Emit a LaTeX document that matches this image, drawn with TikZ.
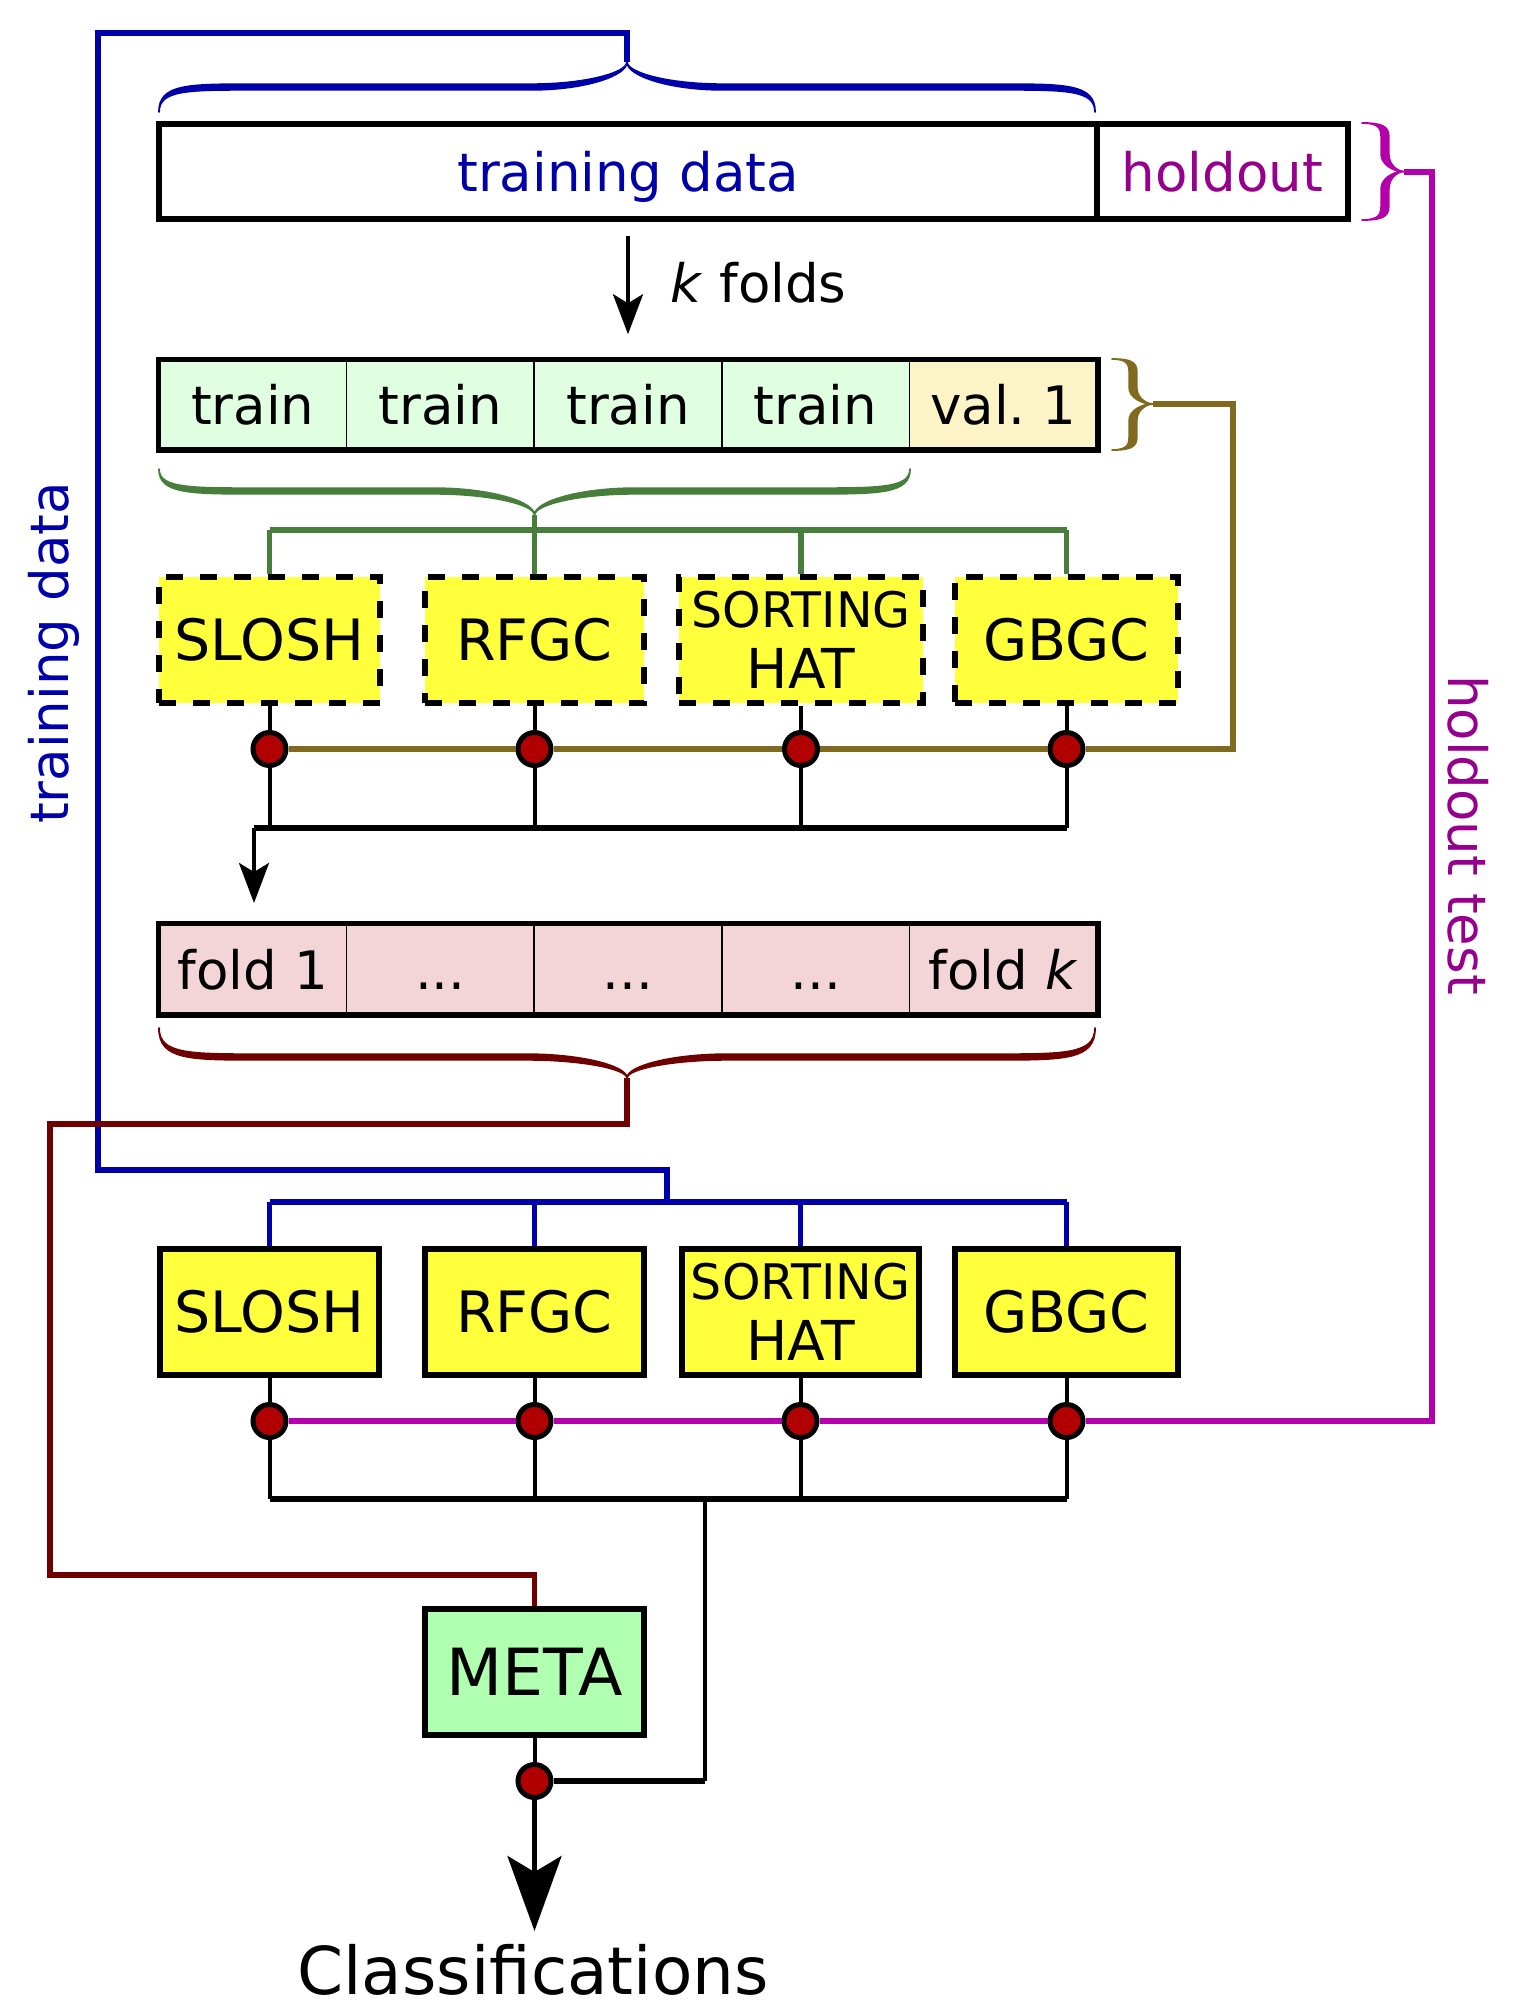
\documentclass[tikz,border=0pt]{standalone}
\usepackage{fontspec}
\setmainfont{DejaVu Sans}
\usetikzlibrary{arrows.meta}
\definecolor{cblue}{RGB}{0,0,170}
\definecolor{cmag}{RGB}{180,0,170}
\definecolor{cmagtext}{RGB}{150,0,140}
\definecolor{colive}{RGB}{128,106,32}
\definecolor{cgreen}{RGB}{72,126,60}
\definecolor{cdred}{RGB}{110,0,0}
\definecolor{cdot}{RGB}{176,0,0}
\definecolor{cyel}{RGB}{255,255,60}
\definecolor{ctrain}{RGB}{224,255,224}
\definecolor{cval}{RGB}{252,243,198}
\definecolor{cfold}{RGB}{244,213,215}
\definecolor{cmeta}{RGB}{176,255,176}
% horizontal brace: colour, left x, right x, tip x, end y, middle y, tip y, half thickness, curve extent
\newcommand\hbrace[9]{%
\filldraw[#1, line width=1.8pt, line join=round]
 (#2,#5) .. controls (#2,{#6-#8}) and ({#2+0.3*#9},{#6-#8}) .. ({#2+#9},{#6-#8})
 -- ({#4-#9},{#6-#8}) .. controls ({#4-0.45*#9},{#6-#8}) and (#4,{0.5*(#6-#8+#7)}) .. (#4,#7)
 .. controls (#4,{0.5*(#6-#8+#7)}) and ({#4+0.45*#9},{#6-#8}) .. ({#4+#9},{#6-#8})
 -- ({#3-#9},{#6-#8}) .. controls ({#3-0.3*#9},{#6-#8}) and (#3,{#6-#8}) .. (#3,#5)
 .. controls (#3,{#6+#8}) and ({#3-0.3*#9},{#6+#8}) .. ({#3-#9},{#6+#8})
 -- ({#4+#9},{#6+#8}) .. controls ({#4+0.45*#9},{#6+#8}) and (#4,{0.5*(#6+#8+#7)}) .. (#4,#7)
 .. controls (#4,{0.5*(#6+#8+#7)}) and ({#4-0.45*#9},{#6+#8}) .. ({#4-#9},{#6+#8})
 -- ({#2+#9},{#6+#8}) .. controls ({#2+0.3*#9},{#6+#8}) and (#2,{#6+#8}) .. (#2,#5) -- cycle;}
% vertical brace: colour, top y, bottom y, tip y, end x, middle x, tip x, half thickness, curve extent
\newcommand\vbrace[9]{%
\filldraw[#1, line width=1.8pt, line join=round]
 (#5,#2) .. controls ({#6-#8},#2) and ({#6-#8},{#2+0.4*#9}) .. ({#6-#8},{#2+#9})
 -- ({#6-#8},{#4-#9}) .. controls ({#6-#8},{#4-0.45*#9}) and ({0.5*(#6-#8+#7)},#4) .. (#7,#4)
 .. controls ({0.5*(#6-#8+#7)},#4) and ({#6-#8},{#4+0.45*#9}) .. ({#6-#8},{#4+#9})
 -- ({#6-#8},{#3-#9}) .. controls ({#6-#8},{#3-0.4*#9}) and ({#6-#8},#3) .. (#5,#3)
 .. controls ({#6+#8},#3) and ({#6+#8},{#3-0.4*#9}) .. ({#6+#8},{#3-#9})
 -- ({#6+#8},{#4+#9}) .. controls ({#6+#8},{#4+0.45*#9}) and ({0.5*(#6+#8+#7)},#4) .. (#7,#4)
 .. controls ({0.5*(#6+#8+#7)},#4) and ({#6+#8},{#4-0.45*#9}) .. ({#6+#8},{#4-#9})
 -- ({#6+#8},{#2+#9}) .. controls ({#6+#8},{#2+0.4*#9}) and ({#6+#8},#2) .. (#5,#2) -- cycle;}
\begin{document}
\frenchspacing
\begin{tikzpicture}[x=1pt,y=-1pt,
  fs/.style={font=\fontsize{53}{60}\selectfont},
  bigbox/.style={draw, line width=5.5pt, inner sep=0pt, text height=40pt, text depth=0pt, fs},
  cell/.style={draw, line width=1.5pt, minimum width=187.6pt, minimum height=89pt, inner sep=0pt, text height=40pt, text depth=0pt, fs},
  mbox/.style={draw, line width=5.5pt, fill=cyel, minimum height=126pt, inner sep=0pt, font=\fontsize{57}{64}\selectfont},
  dbox/.style={mbox, dash pattern=on 17pt off 17pt},
  hatbox/.style={align=center, font=\fontsize{55}{61}\selectfont},
  dot/.style={circle, draw, line width=5pt, fill=cdot, minimum size=33pt, inner sep=0pt},
  wire/.style={line width=4pt},
  buswire/.style={line width=5.5pt},
  cwire/.style={line width=5.5pt},
  smallarrow/.style={line width=4pt, -{Stealth[length=40pt,width=30pt,inset=9pt]}},
  bigarrow/.style={line width=4.5pt, -{Stealth[length=75pt,width=54pt,inset=16pt]}}
]
\useasboundingbox (0,0) rectangle (1535,2007);

% top bar
\node[bigbox, minimum width=938pt, minimum height=95pt, text=cblue] (td) at (628,171.5) {training data};
\node[bigbox, minimum width=251pt, minimum height=95pt, text=cmagtext] (ho) at (1222.5,171.5) {holdout};

% first split
\node[cell, fill=ctrain] (f1) at (252.8,404.5) {train};
\node[cell, fill=ctrain] (f2) at (440.4,404.5) {train};
\node[cell, fill=ctrain] (f3) at (628,404.5) {train};
\node[cell, fill=ctrain] (f4) at (815.6,404.5) {train};
\node[cell, fill=cval] (f5) at (1003.2,404.5) {val. 1};
\draw[line width=5.5pt] (f1.north west) rectangle (f5.south east);

\draw[smallarrow] ([yshift=-14pt]td.south) -- ([yshift=25pt]f3.north);
\node[fs, inner sep=0pt, anchor=west, text height=40pt, text depth=0pt] (kf) at (670,282.5) {\textit{k} folds};

% upper model boxes
\node[dbox, minimum width=221pt] (s1) at (269.5,640) {SLOSH};
\node[dbox, minimum width=219pt] (s2) at (534.5,640) {RFGC};
\node[dbox, minimum width=244pt, hatbox] (s3) at (801,640) {{\fontsize{49}{61}\selectfont SORTING}\\HAT};
\node[dbox, minimum width=223pt] (s4) at (1066.5,640) {GBGC};

\node[dot] (d1) at (269.5,749) {};
\node[dot] (d2) at (534.5,749) {};
\node[dot] (d3) at (801,749) {};
\node[dot] (d4) at (1066.5,749) {};

% fold row
\node[cell, fill=cfold, minimum height=90pt] (g1) at (252.8,969) {fold 1};
\node[cell, fill=cfold, minimum height=90pt] (g2) at (440.4,969) {...};
\node[cell, fill=cfold, minimum height=90pt] (g3) at (628,969) {...};
\node[cell, fill=cfold, minimum height=90pt] (g4) at (815.6,969) {...};
\node[cell, fill=cfold, minimum height=90pt] (g5) at (1003.2,969) {fold \textit{k}};
\draw[line width=5.5pt] (g1.north west) rectangle (g5.south east);

% lower model boxes
\node[mbox, minimum width=219pt] (t1) at (269.5,1312) {SLOSH};
\node[mbox, minimum width=219pt] (t2) at (534.5,1312) {RFGC};
\node[mbox, minimum width=237pt, hatbox] (t3) at (800.5,1312) {{\fontsize{49}{61}\selectfont SORTING}\\HAT};
\node[mbox, minimum width=223pt] (t4) at (1066.5,1312) {GBGC};

\node[dot] (e1) at (269.5,1421) {};
\node[dot] (e2) at (534.5,1421) {};
\node[dot] (e3) at (800.5,1421) {};
\node[dot] (e4) at (1066.5,1421) {};

\node[draw, line width=5.5pt, fill=cmeta, minimum width=219pt, minimum height=126pt, inner sep=0pt, font=\fontsize{65}{72}\selectfont] (meta) at (534.5,1672) {META};
\node[dot] (m) at (534.5,1781) {};
\node[inner sep=0pt, font=\fontsize{66}{74}\selectfont] (cls) at (533,1970) {Classifications};

% side labels
\node[fs, inner sep=0pt, rotate=90, text=cblue] (vtd) at (54,653) {training data};
\node[fs, inner sep=0pt, rotate=-90, text=cmagtext, text height=40pt, text depth=0pt] (vho) at (1468,835) {holdout test};

% coordinates
\coordinate (btip) at (627,62);
\coordinate (b1) at (627,33);
\coordinate (b2) at (98,33);
\coordinate (b3) at (98,1170);
\coordinate (b4) at (667,1170);
\coordinate (b5) at (667,1202);
\coordinate (bb) at (0,1202);
\coordinate (mtip) at (1404,171.5);
\coordinate (m1) at (1432,171.5);
\coordinate (m2) at (1432,1421);
\coordinate (otip) at (1153,404);
\coordinate (o1) at (1233,404);
\coordinate (o2) at (1233,749);
\coordinate (gtip) at (534.5,515);
\coordinate (gb) at (0,530);
\coordinate (bus) at (0,828);
\coordinate (bl) at (254,828);
\coordinate (a2) at (254,903);
\coordinate (rtip) at (627,1078);
\coordinate (r1) at (627,1124);
\coordinate (r2) at (50,1124);
\coordinate (r3) at (50,1575);
\coordinate (r4) at (534.5,1575);
\coordinate (bus2) at (0,1499);
\coordinate (j1) at (705,1499);
\coordinate (j2) at (705,1781);
\coordinate (ct) at (534.5,1931);

% braces
\hbrace{cblue}{159}{1095}{627}{112}{87}{62}{2.8}{95}
\vbrace{cmag}{123}{220}{171.5}{1362}{1385}{1404}{3.8}{17}
\vbrace{colive}{359}{450}{404}{1112}{1133}{1153}{3.8}{16}
\hbrace{cgreen}{159}{910}{534.5}{469}{491}{515}{2.8}{100}
\hbrace{cdred}{159}{1095}{627}{1028}{1057}{1078}{2.8}{100}

% blue training-data wire
\draw[cwire, cblue] (btip) -- (b1) -- (b2) -- (b3) -- (b4) -- (b5);
\draw[cwire, cblue] (t1.north |- bb) -- (t4.north |- bb);
\foreach \n in {t1,t2,t3,t4} \draw[cwire, cblue] (\n.north |- bb) -- (\n.north);

% magenta holdout wire
\draw[cwire, cmag, line width=6pt] (mtip) -- (m1) -- (m2) -- (e4);
\draw[cwire, cmag, line width=6pt] (e4) -- (e3);
\draw[cwire, cmag, line width=6pt] (e3) -- (e2);
\draw[cwire, cmag, line width=6pt] (e2) -- (e1);

% olive validation wire
\draw[cwire, colive] (otip) -- (o1) -- (o2) -- (d4);
\draw[cwire, colive] (d4) -- (d3);
\draw[cwire, colive] (d3) -- (d2);
\draw[cwire, colive] (d2) -- (d1);

% green train wire
\draw[cwire, cgreen] (gtip) -- (gtip |- gb);
\draw[cwire, cgreen] (s1.north |- gb) -- (s4.north |- gb);
\foreach \n in {s1,s2,s3,s4} \draw[cwire, cgreen] (\n.north |- gb) -- (\n.north);

% dark red fold wire
\draw[cwire, cdred] (rtip) -- (r1) -- (r2) -- (r3) -- (r4) -- (meta.north);

% black wires upper
\foreach \a/\b in {s1/d1,s2/d2,s3/d3,s4/d4} {
  \draw[wire] (\a.south) -- (\b);
  \draw[wire] (\b) -- (\b |- bus);
}
\draw[buswire] (d4 |- bus) -- (bl);
\draw[smallarrow] (bl) -- (a2);

% black wires lower
\foreach \a/\b in {t1/e1,t2/e2,t3/e3,t4/e4} {
  \draw[wire] (\a.south) -- (\b);
  \draw[wire] (\b) -- (\b |- bus2);
}
\draw[buswire] (e1 |- bus2) -- (e4 |- bus2);
\draw[wire] (j1) -- (j2);
\draw[buswire] (j2) -- (m);
\draw[wire] (meta.south) -- (m);
\draw[bigarrow] (m) -- (ct);
\end{tikzpicture}
\end{document}
